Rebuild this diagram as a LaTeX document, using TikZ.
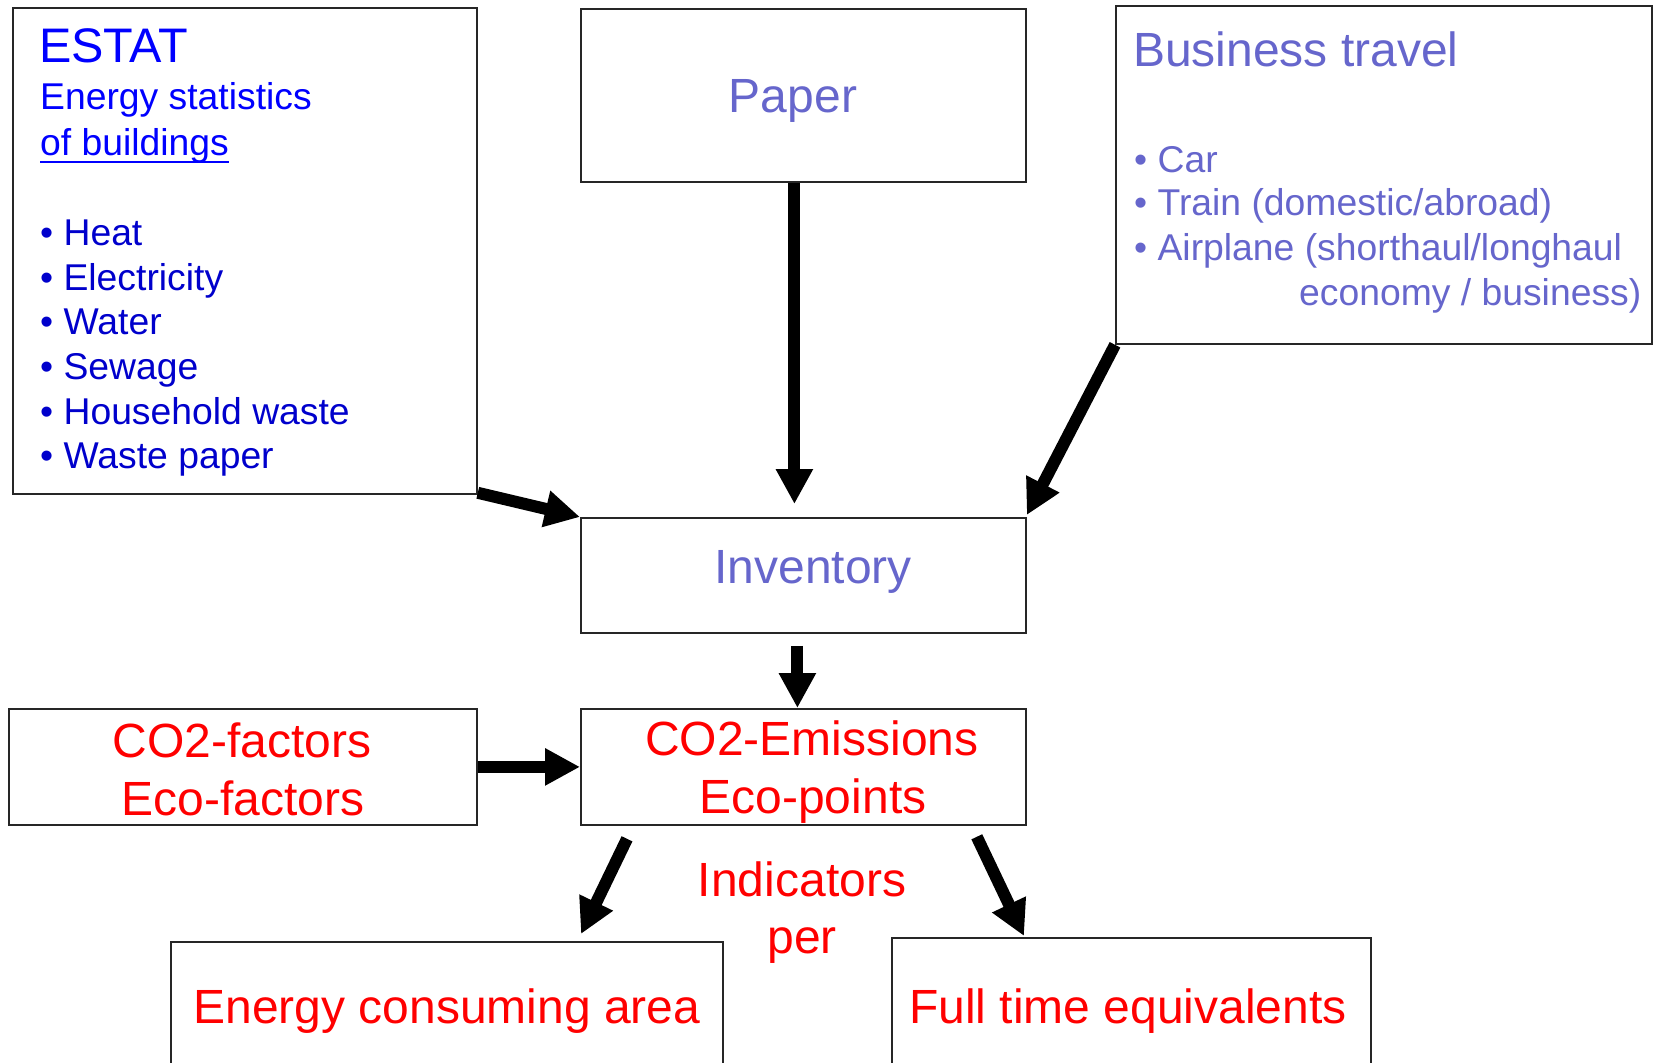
\documentclass[tikz,border=0pt]{standalone}
\usepackage{fontspec}
\setmainfont{Liberation Sans}
\usetikzlibrary{arrows.meta,calc}
\definecolor{eblue}{RGB}{0,0,255}
\definecolor{dblue}{RGB}{0,0,204}
\definecolor{lav}{RGB}{102,102,204}
\definecolor{ired}{RGB}{255,0,0}
\begin{document}
\begin{tikzpicture}[x=1pt,y=-1pt,
 box/.style={draw=black!85, line width=1.8pt, inner sep=0, anchor=north west},
 txt/.style={inner sep=0, anchor=base west},
 ctxt/.style={inner sep=0, anchor=base},
 big/.style={font=\fontsize{48}{57}\selectfont},
 small/.style={font=\fontsize{37.3}{44}\selectfont},
 arr/.style={line width=12pt, -{Triangle[length=35pt,width=35pt]}},
]
\useasboundingbox[fill=white] (0,0) rectangle (1653,1062);

% boxes
\node[box, minimum width=464pt, minimum height=486pt] (estat) at (12,7) {};
\node[box, minimum width=445pt, minimum height=173pt] (paper) at (580,8) {};
\node[box, minimum width=536pt, minimum height=338pt] (travel) at (1115,5) {};
\node[box, minimum width=445pt, minimum height=115pt] (inv) at (580,517) {};
\node[box, minimum width=445pt, minimum height=116pt] (emis) at (580,708) {};
\node[box, minimum width=468pt, minimum height=116pt] (fact) at (8,708) {};
\node[box, minimum width=552pt, minimum height=200pt] (area) at (170,941) {};
\node[box, minimum width=479pt, minimum height=200pt] (fte) at (891,937) {};

% ESTAT texts
\node[txt, text=eblue, font=\fontsize{48.5}{58}\selectfont] (estatt) at (39,63) {ESTAT};
\node[txt, small, text=eblue] (ens) at (40,110) {Energy statistics};
\node[txt, small, text=eblue] (ob) at (40,155) {of buildings};
\draw[eblue, line width=2.5pt] ($(ob.base west)+(0,7)$) -- ($(ob.base east)+(0,7)$);
\node[txt, small, text=dblue] (b1) at (40,245) {• Heat};
\node[txt, small, text=dblue] (b2) at (40,290) {• Electricity};
\node[txt, small, text=dblue] (b3) at (40,334) {• Water};
\node[txt, small, text=dblue] (b4) at (40,379) {• Sewage};
\node[txt, small, text=dblue] (b5) at (40,424) {• Household waste};
\node[txt, small, text=dblue] (b6) at (40,468) {• Waste paper};

% Paper
\node[ctxt, big, text=lav] (papert) at (793,113) {Paper};

% Business travel
\node[txt, big, text=lav] (bt) at (1133,67) {Business travel};
\node[txt, small, text=lav] (c1) at (1134,172) {• Car};
\node[txt, small, text=lav] (c2) at (1134,215) {• Train (domestic/abroad)};
\node[txt, small, text=lav] (c3) at (1134,260) {• Airplane (shorthaul/longhaul};
\node[txt, small, text=lav] (c4) at (1299,305) {economy / business)};

% Inventory
\node[ctxt, big, text=lav] (invt) at (813,583) {Inventory};

% CO2
\node[ctxt, big, text=ired] (e1) at (812,755) {CO2-Emissions};
\node[ctxt, big, text=ired] (e2) at (813,813) {Eco-points};
\node[ctxt, big, text=ired] (f1) at (242,757) {CO2-factors};
\node[ctxt, big, text=ired] (f2) at (243,815) {Eco-factors};

% Indicators
\node[ctxt, big, text=ired] (ind1) at (802,896) {Indicators};
\node[ctxt, big, text=ired] (ind2) at (802,953) {per};

\node[ctxt, big, text=ired] (areat) at (447,1023) {Energy consuming area};
\node[ctxt, big, text=ired] (ftet) at (1128,1023) {Full time equivalents};

% arrows
\draw[arr] ($(estat.south east)+(0,-2)$) -- (inv.north west);
\draw[arr] ($(paper.south)+(-9,0)$) -- ($(inv.north)+(-9,-13)$);
\draw[arr] (travel.south west) -- ($(inv.north east)+(0,-2)$);
\draw[arr] ($(inv.south)+(-6,12)$) -- ($(emis.north)+(-6,0)$);
\draw[arr] (fact.east) -- (emis.west);
\draw[arr] ($(emis.south west)+(47,13)$) -- ($(area.north west)+(411,-7)$);
\draw[arr] ($(emis.south east)+(-50,11)$) -- ($(fte.north west)+(133,-1)$);
\end{tikzpicture}
\end{document}
